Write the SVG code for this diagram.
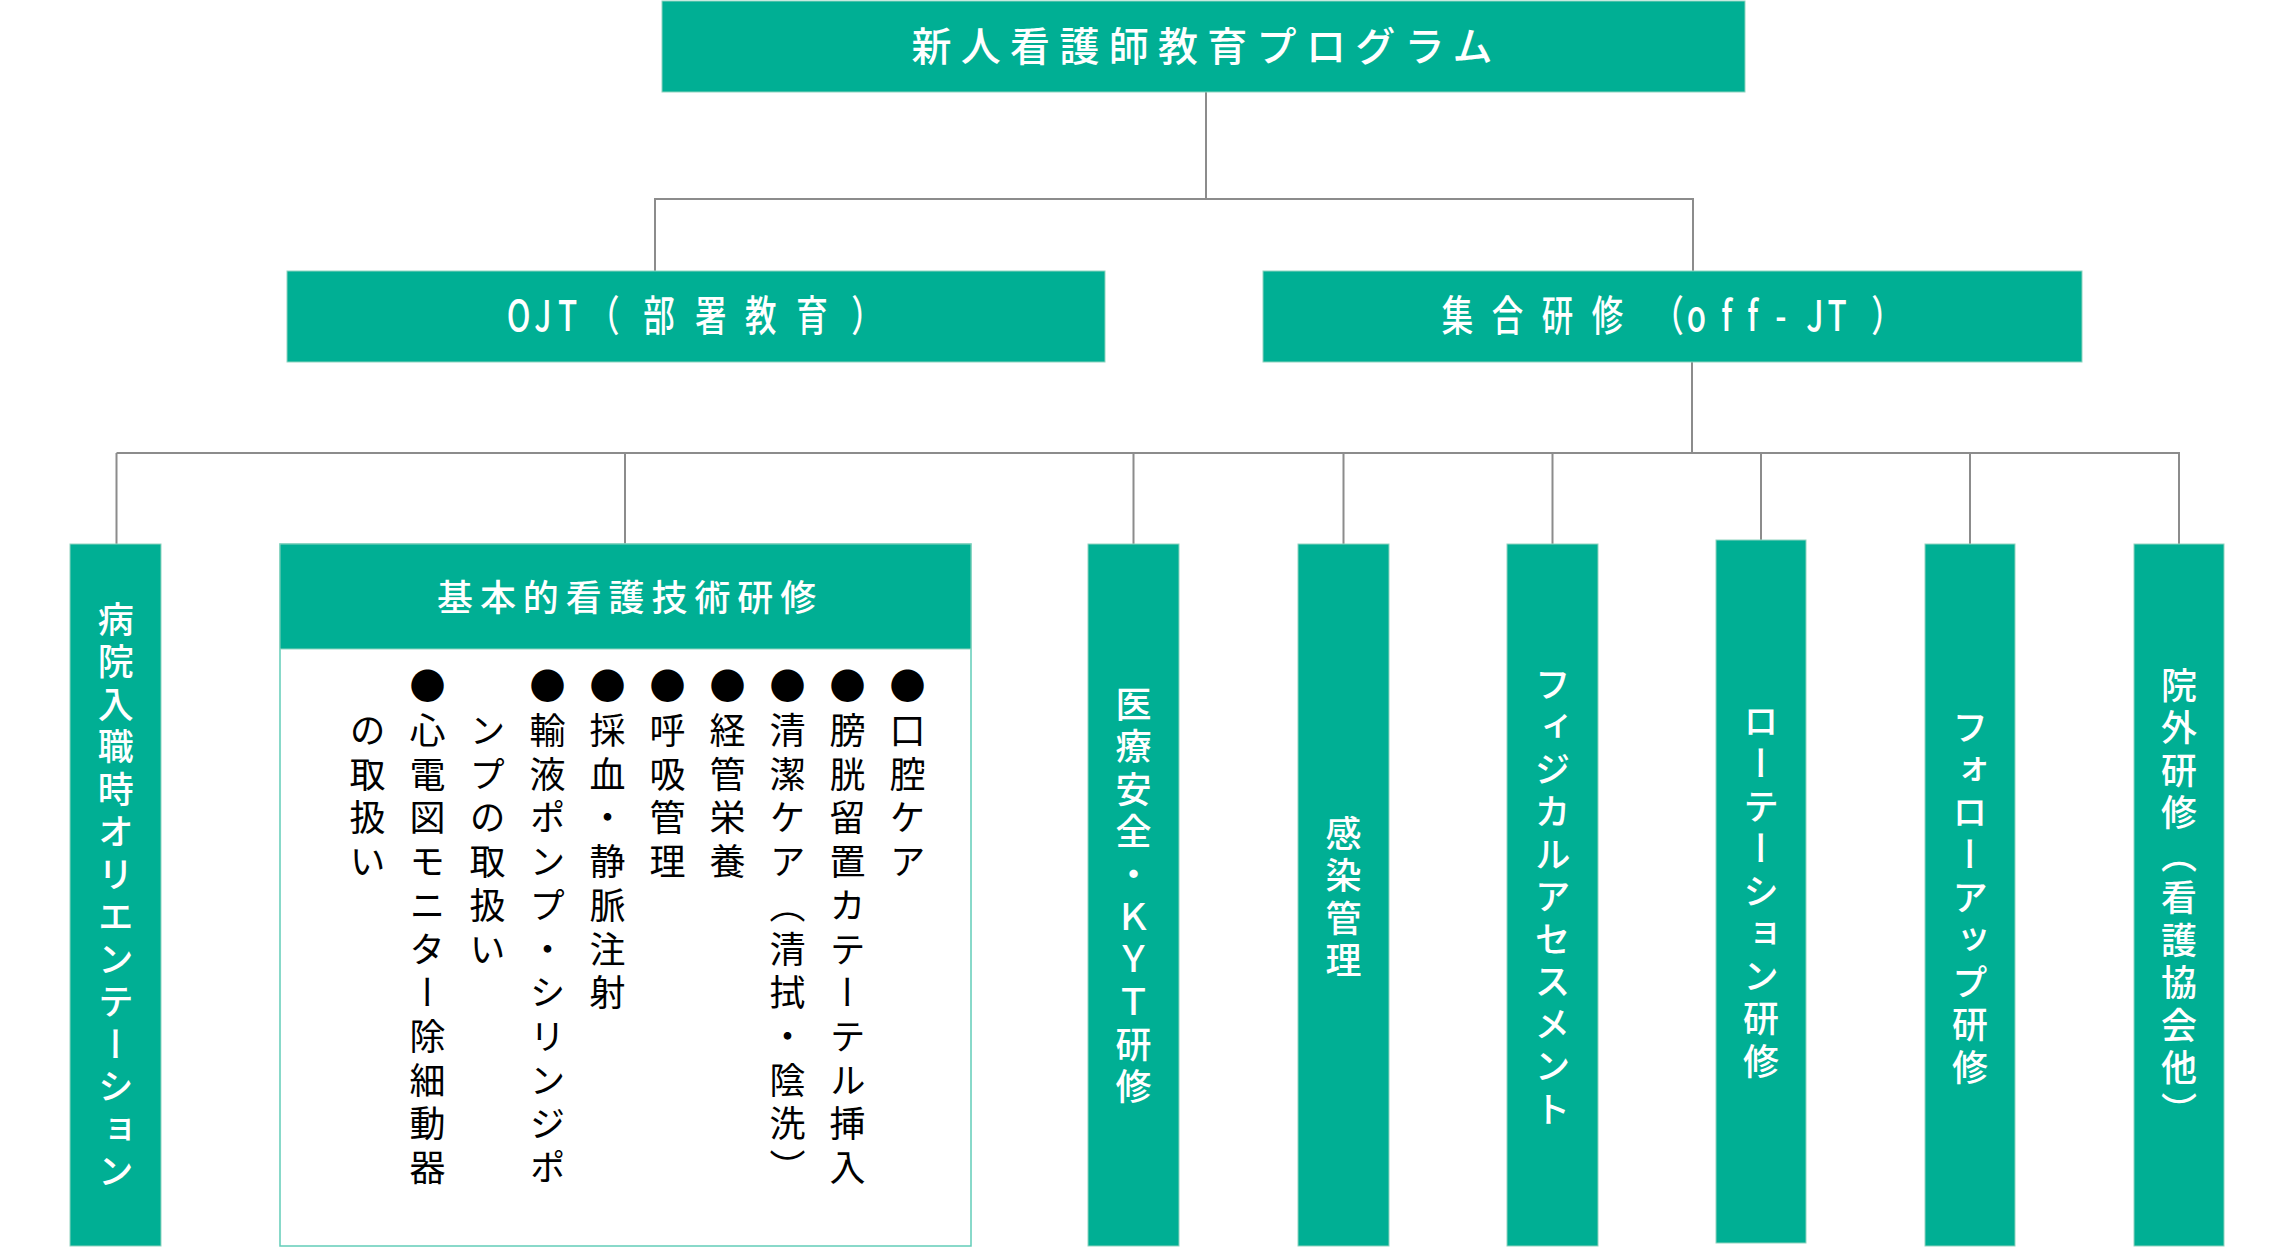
<svg xmlns="http://www.w3.org/2000/svg" width="2283" height="1248" viewBox="0 0 2283 1248">
<style>
.box{fill:#00AF94;stroke:#8fd3bf;stroke-width:1}
.panel{fill:#ffffff;stroke:#62cdb8;stroke-width:1.5}
.ln{stroke:#8c8c8c;stroke-width:2;fill:none}
.hd{font-family:"Noto Sans CJK JP","Noto Sans",sans-serif;font-weight:500;fill:#ffffff;dominant-baseline:central}
.vt{font-family:"Noto Sans CJK JP","Noto Sans",sans-serif;font-weight:500;fill:#ffffff;font-size:36px;letter-spacing:6.5px;writing-mode:vertical-rl}
.bt{font-family:"Noto Sans CJK JP","Noto Sans",sans-serif;font-weight:400;fill:#000000;font-size:36px;letter-spacing:7.7px;writing-mode:vertical-rl}
</style>
<rect width="2283" height="1248" fill="#ffffff"/>
<g id="connectors">
<path class="ln" d="M1206 92V199M654 199H1694M655 199V271M1693 199V271"/>
<path class="ln" d="M1692 362V453M116.5 453H2180M116.5 453V544M625 453V544M1133.5 453V544M1343.5 453V544M1552.5 453V544M1761 453V540M1970 453V544M2179 453V544"/>
</g>
<g id="title">
<rect class="box" x="662" y="1" width="1083" height="91"/>
<text class="hd" x="911.5" y="44" font-size="40" letter-spacing="9.3">新人看護師教育プログラム</text>
</g>
<g id="ojt">
<rect class="box" x="287" y="271" width="818" height="91"/>
<text class="hd" transform="scale(0.75,1)" font-size="42" y="312.5" x="675.6 712.2 743.9 783.9 857.8 926.7 993.4 1061.8 1134.9">OJT（部署教育）</text>
</g>
<g id="offjt">
<rect class="box" x="1263" y="271" width="819" height="91"/>
<text class="hd" transform="scale(0.75,1)" font-size="42" y="312.5" x="1922.2 1988.9 2055.6 2122.2 2203.1 2248.9 2294.9 2329.6 2367.1 2408.3 2436.8 2494.9">集合研修（off-JT）</text>
</g>
<g id="orientation">
<rect class="box" x="70" y="544" width="91" height="702"/>
<text class="vt" x="115.7" y="601">病院入職時オリエンテーション</text>
</g>
<g id="kihon">
<rect class="panel" x="280" y="544" width="691" height="702"/>
<rect class="box" x="280" y="544" width="691" height="105"/>
<text class="hd" x="437" y="595" font-size="36" letter-spacing="6.9">基本的看護技術研修</text>
<text class="bt" x="907.5" y="668.7">●口腔ケア</text>
<text class="bt" x="847.5" y="668.7">●膀胱留置カテーテル挿入</text>
<text class="bt" x="787.5" y="668.7">●清潔ケア（清拭・陰洗）</text>
<text class="bt" x="727.5" y="668.7">●経管栄養</text>
<text class="bt" x="667.5" y="668.7">●呼吸管理</text>
<text class="bt" x="607.5" y="668.7">●採血・静脈注射</text>
<text class="bt" x="547.5" y="668.7">●輸液ポンプ・シリンジポ</text>
<text class="bt" x="487.5" y="712.4">ンプの取扱い</text>
<text class="bt" x="427.5" y="668.7">●心電図モニター除細動器</text>
<text class="bt" x="367.5" y="712.4">の取扱い</text>
</g>
<g id="iryo">
<rect class="box" x="1088" y="544" width="91" height="702"/>
<text class="vt" x="1133.5" y="686">医療安全・ＫＹＴ研修</text>
</g>
<g id="kansen">
<rect class="box" x="1298" y="544" width="91" height="702"/>
<text class="vt" x="1343.5" y="815">感染管理</text>
</g>
<g id="physical">
<rect class="box" x="1507" y="544" width="91" height="702"/>
<text class="vt" x="1552.5" y="666">フィジカルアセスメント</text>
</g>
<g id="rotation">
<rect class="box" x="1716" y="540" width="90" height="703"/>
<text class="vt" x="1761" y="703">ローテーション研修</text>
</g>
<g id="follow">
<rect class="box" x="1925" y="544" width="90" height="702"/>
<text class="vt" x="1970" y="709">フォローアップ研修</text>
</g>
<g id="ingai">
<rect class="box" x="2134" y="544" width="90" height="702"/>
<text class="vt" x="2179" y="667">院外研修（看護協会他）</text>
</g>
</svg>
